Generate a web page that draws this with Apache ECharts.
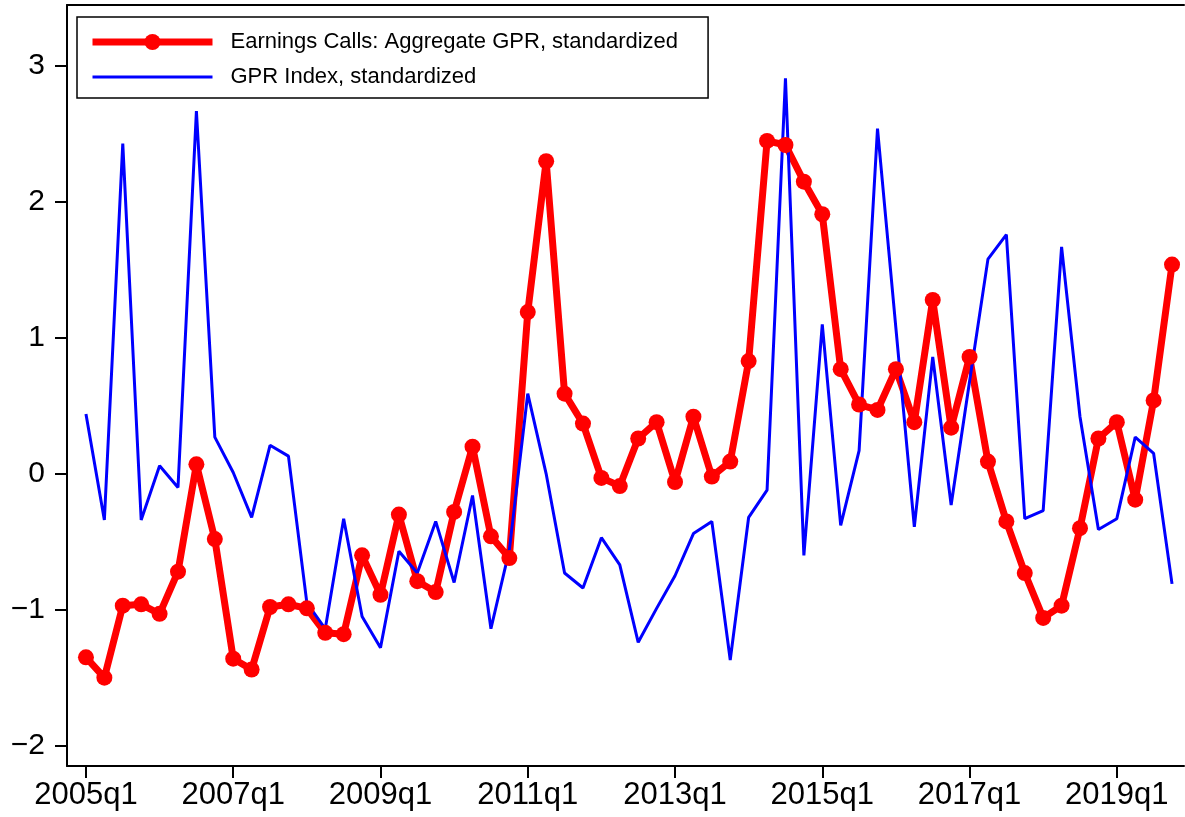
<!DOCTYPE html>
<html>
	<head>
		<meta charset="utf-8" />
		<title>Earnings Calls GPR vs GPR Index</title>
		<script src="https://cdn.jsdelivr.net/npm/echarts@6/dist/echarts.min.js"></script>
		<style>
			html, body { margin: 0; padding: 0; background: #fff; }
			#main { width: 1185px; height: 817px; }
		</style>
	</head>
	<body>
		<div id="main"></div>
	<script>
	// quarters 2005q1 .. 2019q4
	var quarters = [
		'2005q1','2005q2','2005q3','2005q4','2006q1','2006q2','2006q3','2006q4',
		'2007q1','2007q2','2007q3','2007q4','2008q1','2008q2','2008q3','2008q4',
		'2009q1','2009q2','2009q3','2009q4','2010q1','2010q2','2010q3','2010q4',
		'2011q1','2011q2','2011q3','2011q4','2012q1','2012q2','2012q3','2012q4',
		'2013q1','2013q2','2013q3','2013q4','2014q1','2014q2','2014q3','2014q4',
		'2015q1','2015q2','2015q3','2015q4','2016q1','2016q2','2016q3','2016q4',
		'2017q1','2017q2','2017q3','2017q4','2018q1','2018q2','2018q3','2018q4',
		'2019q1','2019q2','2019q3','2019q4'
	];

	// Earnings Calls: Aggregate GPR, standardized
	var earningsGpr = [
		-1.35, -1.50, -0.97, -0.96, -1.03, -0.72, 0.07, -0.48,
		-1.36, -1.44, -0.98, -0.96, -0.99, -1.17, -1.18, -0.60,
		-0.89, -0.30, -0.79, -0.87, -0.28, 0.20, -0.46, -0.62,
		1.19, 2.30, 0.59, 0.37, -0.03, -0.09, 0.26, 0.38,
		-0.06, 0.42, -0.02, 0.09, 0.83, 2.45, 2.42, 2.15,
		1.91, 0.77, 0.51, 0.47, 0.77, 0.38, 1.28, 0.34,
		0.86, 0.09, -0.35, -0.73, -1.06, -0.97, -0.40, 0.26,
		0.38, -0.19, 0.54, 1.54
	];

	// GPR Index, standardized
	var gprIndex = [
		0.44, -0.34, 2.43, -0.34, 0.06, -0.10, 2.67, 0.27,
		0.01, -0.32, 0.21, 0.13, -0.95, -1.14, -0.33, -1.05,
		-1.28, -0.57, -0.73, -0.35, -0.80, -0.16, -1.14, -0.56,
		0.59, 0.00, -0.73, -0.84, -0.47, -0.67, -1.24, -0.99,
		-0.75, -0.44, -0.35, -1.37, -0.32, -0.12, 2.91, -0.60,
		1.10, -0.38, 0.17, 2.54, 1.07, -0.39, 0.86, -0.23,
		0.68, 1.58, 1.76, -0.33, -0.27, 1.67, 0.42, -0.41,
		-0.33, 0.27, 0.15, -0.81
	];

	// tick positions (quarter index) and y ticks
	var xTicks = [0, 8, 16, 24, 32, 40, 48, 56];
	var yTicks = [-2, -1, 0, 1, 2, 3];

	var nameEc = 'Earnings Calls: Aggregate GPR, standardized';
	var nameGpr = 'GPR Index, standardized';

	function pairs(arr){
		return arr.map(function(v, i){ return [i, v]; });
	}

	var font = 'Liberation Sans';

	var chart = echarts.init(document.getElementById('main'));

	var option = {
		animation: false,
		backgroundColor: '#fff',
		grid: { left: 67, right: 1, top: 5, bottom: 51 },
		legend: {
			orient: 'vertical',
			left: 77,
			top: 17,
			padding: [14, 30, 10, 12],
			itemGap: 13,
			itemWidth: 120,
			itemHeight: 20,
			borderColor: '#000',
			borderWidth: 1.5,
			backgroundColor: '#fff',
			lineStyle: { width: 'inherit' },
			textStyle: {
				fontFamily: font,
				fontSize: 22,
				lineHeight: 22,
				color: '#000',
				padding: [0, 0, 0, 13]
			},
			data: [
				{ name: nameEc },
				// no marker for the plain line
				{ name: nameGpr, itemStyle: { color: 'rgba(0,0,0,0)', borderWidth: 0, opacity: 0 } }
			]
		},
		xAxis: [{
			type: 'value',
			min: -1.03,
			max: 59.65,
			splitLine: { show: false },
			axisLine: { show: true, onZero: false, lineStyle: { color: '#000', width: 2 } },
			axisTick: { show: true, length: 12, customValues: xTicks, lineStyle: { color: '#000', width: 2 } },
			axisLabel: {
				customValues: xTicks,
				margin: 14,
				fontFamily: font,
				fontSize: 31,
				color: '#000',
				formatter: function(v){ return quarters[Math.round(v)]; }
			}
		}, {
			// top border of the plot region
			type: 'value',
			position: 'top',
			min: -1.03,
			max: 59.65,
			splitLine: { show: false },
			axisLine: { show: true, onZero: false, lineStyle: { color: '#000', width: 2 } },
			axisTick: { show: false },
			axisLabel: { show: false }
		}],
		yAxis: {
			type: 'value',
			min: -2.15,
			max: 3.45,
			splitLine: { show: false },
			axisLine: { show: true, onZero: false, lineStyle: { color: '#000', width: 2 } },
			axisTick: { show: true, length: 12, customValues: yTicks, lineStyle: { color: '#000', width: 2 } },
			axisLabel: {
				customValues: yTicks,
				margin: 22,
				fontFamily: font,
				fontSize: 30,
				color: '#000',
				formatter: function(v){ return v < 0 ? '\u2212' + Math.abs(v) : String(v); }
			}
		},
		series: [{
			name: nameEc,
			type: 'line',
			data: pairs(earningsGpr),
			symbol: 'circle',
			symbolSize: 16,
			showAllSymbol: true,
			itemStyle: { color: '#ff0000' },
			lineStyle: { color: '#ff0000', width: 7 }
		}, {
			name: nameGpr,
			type: 'line',
			data: pairs(gprIndex),
			symbol: 'none',
			itemStyle: { color: '#0000ff' },
			lineStyle: { color: '#0000ff', width: 3 }
		}]
	};

	chart.setOption(option);
	</script>
	</body>
</html>
